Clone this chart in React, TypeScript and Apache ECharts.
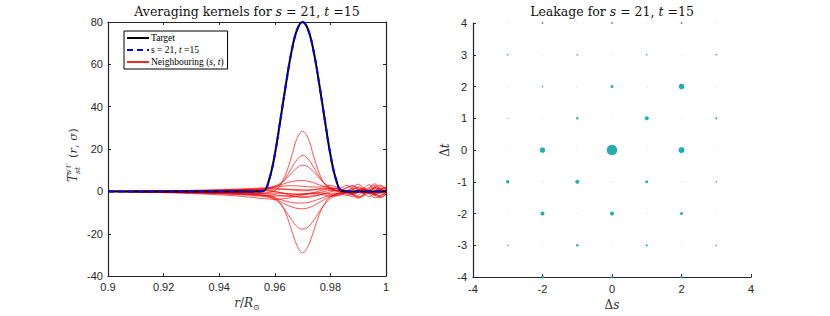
import React, { useEffect, useRef } from "react";
import * as echarts from "echarts";

// radius grid r/R_sun
const R = [0.9, 0.91, 0.92, 0.93, 0.94, 0.945, 0.95, 0.953, 0.956, 0.958, 0.96, 0.962, 0.964, 0.966, 0.968, 0.97, 0.972, 0.974, 0.976, 0.978, 0.98, 0.982, 0.984, 0.986, 0.988, 0.99, 0.992, 0.994, 0.996, 0.998, 1.0];

const TARGET = [0, 0, 0, 0, 0, 0, 0, 0, 0.2, 5.7, 17.4, 33.7, 50.6, 65.9, 76.3, 80, 76.3, 65.9, 50.6, 33.7, 17.4, 5.7, 0.2, 0, 0, 0, 0, 0, 0, 0, 0];
const KERNEL = [0, 0, 0, 0, 0, 0, 0, 0, 0.2, 5.7, 17.4, 33.7, 50.6, 65.9, 76.3, 80, 76.3, 65.9, 50.6, 33.7, 17.4, 5.7, 0.2, 0, 0, 0, 0, 0, 0, 0, 0];

const N01 = [0, -0.1, -0.2, -0.3, -0.5, -0.6, -0.8, -0.9, -0.8, -0.5, 0.4, 3.0, 8.4, 16.4, 25.0, 28.4, 25.0, 16.5, 8.6, 3.4, 1.0, 0.2, -0.3, 0.4, -0.6, 0.8, -1.2, 0.6, 1.5, -0.8, 0.5];
const N02 = [0, 0.1, 0.2, 0.3, 0.5, 0.6, 0.8, 0.9, 1.0, 1.3, 2.0, 3.6, 6.6, 11.0, 15.0, 16.9, 15.3, 11.4, 7.0, 3.6, 1.6, 0.5, 0.0, -0.6, 0.9, 1.8, 0.3, -1.0, 2.1, 0.4, -0.5];
const N03 = [0, 0.1, 0.2, 0.4, 0.6, 0.8, 1.0, 1.2, 1.5, 1.9, 2.6, 3.8, 5.9, 8.6, 11.1, 12.4, 11.6, 9.2, 6.2, 3.7, 2.0, 1.2, 0.9, 1.7, 2.6, 0.8, -0.4, 1.3, 2.8, 1.0, 0.2];
const N04 = [0, 0.0, 0.1, 0.2, 0.3, 0.4, 0.6, 0.8, 1.1, 1.5, 2.2, 3.0, 3.9, 4.6, 5.0, 5.1, 4.8, 4.1, 3.1, 2.2, 1.6, 1.4, 1.8, 2.9, 1.2, -0.6, 1.4, 3.2, 0.5, 2.4, 1.0];
const N05 = [0, 0.1, 0.2, 0.3, 0.5, 0.6, 0.7, 0.9, 1.2, 1.5, 1.9, 2.3, 2.6, 2.7, 2.6, 2.4, 2.2, 2.1, 2.0, 2.3, 2.8, 2.2, 1.0, 0.3, 1.9, 3.4, 1.6, -0.2, 1.8, 3.0, 0.8];
const N06 = [0, 0.0, 0.1, 0.1, 0.2, 0.3, 0.4, 0.5, 0.6, 0.7, 0.8, 0.9, 1.0, 1.0, 0.9, 0.8, 0.7, 0.9, 1.3, 1.6, 1.2, 0.4, -0.5, 0.2, 1.5, 0.7, -0.8, 0.6, 2.0, -0.4, -1.5];
const N07 = [0, -0.1, -0.1, -0.2, -0.4, -0.5, -0.6, -0.7, -0.8, -0.8, -0.8, -0.9, -1.0, -1.1, -1.2, -1.2, -1.1, -0.9, -0.5, 0.0, 0.5, 0.6, 0.1, -0.6, -1.2, 0.3, 1.2, -0.2, -1.6, -0.5, 0.8];
const N08 = [0, -0.1, -0.2, -0.3, -0.5, -0.6, -0.8, -0.9, -1.1, -1.3, -1.6, -1.9, -2.2, -2.4, -2.5, -2.5, -2.3, -2.0, -1.6, -1.2, -0.9, -0.8, -1.2, -2.0, -0.7, 0.6, -1.0, -2.4, -0.4, 1.1, -0.6];
const N09 = [0, -0.1, -0.2, -0.4, -0.7, -0.9, -1.1, -1.4, -1.8, -2.3, -3.0, -3.8, -4.6, -5.2, -5.5, -5.5, -5.2, -4.5, -3.6, -2.6, -1.8, -1.2, -0.9, -1.4, -2.6, -1.8, -0.4, -1.2, -3.0, -1.8, -0.8];
const N10 = [0, -0.1, -0.3, -0.5, -0.8, -1.0, -1.2, -1.5, -1.9, -2.5, -3.5, -4.8, -6.2, -7.3, -8.0, -8.2, -7.8, -6.7, -5.2, -3.7, -2.4, -1.4, -0.8, -0.6, -1.3, -2.5, -1.6, -0.2, -1.0, -2.6, -1.4];
const N11 = [0, -0.2, -0.4, -0.7, -1.1, -1.4, -1.7, -2.0, -2.4, -2.9, -4.0, -6.0, -9.4, -13.3, -16.6, -17.8, -16.8, -13.6, -9.7, -6.0, -3.4, -1.8, -1.0, -0.8, -1.6, -0.6, 0.8, -0.4, -1.8, -0.3, 0.9];
const N12 = [0, -0.1, -0.3, -0.5, -0.8, -1.0, -1.3, -1.5, -1.8, -2.0, -3.0, -5.5, -10.5, -18.2, -25.6, -29.0, -25.8, -18.6, -10.9, -5.6, -2.6, -1.2, -0.5, 0.3, -0.8, 0.6, 1.6, 0.2, -1.0, 0.9, -0.3];
const N13 = [0, 0.1, 0.3, 0.5, 0.8, 1.0, 1.3, 1.5, 1.6, 1.6, 1.5, 1.3, 1.0, 0.7, 0.4, 0.3, 0.4, 0.7, 1.0, 1.2, 0.9, 0.3, 0.6, 1.8, 2.7, 1.4, 0.2, 1.9, 3.6, 1.2, 2.0];
const N14 = [0, -0.2, -0.4, -0.7, -1.1, -1.3, -1.6, -1.8, -2.0, -2.1, -2.2, -2.2, -2.1, -1.9, -1.6, -1.3, -1.0, -0.8, -0.7, -0.9, -1.5, -2.2, -1.6, -0.5, -1.2, -2.8, -1.5, 0.4, -0.9, -2.2, -0.4];
const N15 = [0, -0.3, -0.6, -1.0, -1.6, -2.0, -2.6, -3.0, -3.4, -3.6, -3.7, -3.6, -3.3, -2.8, -2.2, -1.7, -1.3, -1.1, -1.3, -1.8, -2.4, -2.0, -1.1, -0.4, -1.5, -3.2, -2.1, -0.6, -1.9, -3.0, -1.2];
const N16 = [0, 0.0, 0.1, 0.2, 0.3, 0.3, 0.4, 0.4, 0.3, 0.1, -0.2, -0.6, -1.0, -1.3, -1.4, -1.3, -1.0, -0.5, 0.2, 0.9, 1.4, 1.5, 0.9, 0.1, 0.8, 2.2, 1.0, -1.0, 0.2, 1.6, -0.8];
const N17 = [0, 0.1, 0.2, 0.3, 0.4, 0.5, 0.6, 0.6, 0.6, 0.4, 0.0, -0.5, -1.2, -2.0, -2.6, -2.9, -2.8, -2.4, -1.7, -0.9, -0.2, 0.4, 0.5, -0.3, -1.3, -0.4, 1.0, 0.3, -1.4, 0.6, 1.8];
const NEIGHBOURS = [N01, N02, N03, N04, N05, N06, N07, N08, N09, N10, N11, N12, N13, N14, N15, N16, N17];

// leakage (relative) for neighbouring modes
const DS = [-2, 0, 2, -3, -1, 1, 3, -2, 0, 2, -3, -1, 1, 3, -2, 0, 2, -3, -1, 1, 3, -2, 0, 2, -3, -1, 1, 3, -2, 0, 2];
const DT = [4, 4, 4, 3, 3, 3, 3, 2, 2, 2, 1, 1, 1, 1, 0, 0, 0, -1, -1, -1, -1, -2, -2, -2, -3, -3, -3, -3, -4, -4, -4];
const LEAK = [0.03, 0.03, 0.03, 0.02, 0.02, 0.02, 0.02, 0.02, 0.08, 0.28, 0.01, 0.057, 0.145, 0.036, 0.27, 1.0, 0.33, 0.11, 0.145, 0.08, 0.02, 0.145, 0.145, 0.08, 0.02, 0.057, 0.036, 0.02, 0.08, 0.036, 0.036];

const X_TICKS = [-4, -2, 0, 2, 4];
const Y_TICKS = [-4, -3, -2, -1, 0, 1, 2, 3, 4];

const SERIF = "'DejaVu Serif', 'Liberation Serif', serif";
const LSERIF = "'Liberation Serif', 'DejaVu Serif', serif";
const SANS = "'Liberation Sans', Arial, sans-serif";
const AX = "#262626";

export default function App() {
  const ref = useRef<HTMLDivElement>(null);
  useEffect(() => {
    const chart = echarts.init(ref.current!, null, { renderer: "svg" });

    const pairs = (ys: number[]) => R.map((r, i) => [r, ys[i]]);
    const redName = "Neighbouring";

    const series: any[] = NEIGHBOURS.map((c) => ({
      type: "line",
      name: redName,
      xAxisIndex: 0,
      yAxisIndex: 0,
      data: pairs(c),
      symbol: "none",
      smooth: 0.4,
      lineStyle: { color: "#ff0000", width: 0.8, opacity: 0.85 },
      itemStyle: { color: "#ff0000" },
      silent: true,
    }));
    series.push({
      type: "line",
      name: "Target",
      xAxisIndex: 0,
      yAxisIndex: 0,
      data: pairs(TARGET),
      symbol: "none",
      smooth: 0.4,
      lineStyle: { color: "#000000", width: 2 },
      itemStyle: { color: "#000000" },
    });
    series.push({
      type: "line",
      name: "Kernel",
      xAxisIndex: 0,
      yAxisIndex: 0,
      data: pairs(KERNEL),
      symbol: "none",
      smooth: 0.4,
      lineStyle: { color: "#0000ff", width: 2, type: [6, 4] },
      itemStyle: { color: "#0000ff" },
    });

    // faint markers at all other grid positions
    const faint: number[][] = [];
    for (const t of Y_TICKS) {
      for (const s of [-3, -2, -1, 0, 1, 2, 3]) {
        if (Math.abs(s + t) % 2 === 1) faint.push([s, t]);
      }
    }
    series.push({
      type: "scatter",
      xAxisIndex: 2,
      yAxisIndex: 2,
      data: faint,
      symbolSize: 1.5,
      itemStyle: { color: "#18abab", opacity: 0.15 },
      silent: true,
    });
    series.push({
      type: "scatter",
      xAxisIndex: 2,
      yAxisIndex: 2,
      data: DS.map((s, i) => [s, DT[i], LEAK[i]]),
      symbolSize: (v: number[]) => 10.5 * Math.sqrt(v[2]),
      itemStyle: { color: "#17abab", opacity: 0.95 },
      silent: true,
    });

    const axisCommon = {
      axisLine: { show: true, onZero: false, lineStyle: { color: AX, width: 1.2 } },
      axisTick: { show: true, inside: true, length: 3, lineStyle: { color: AX, width: 1 } },
      splitLine: { show: false },
      axisLabel: { color: AX, fontFamily: SANS, fontSize: 11, margin: 5 },
    };

    const option: any = {
      animation: false,
      backgroundColor: "#ffffff",
      grid: [
        { left: 108, top: 22, width: 278, height: 258 },
        { left: 473, top: 23, width: 278, height: 258 },
      ],
      legend: {
        data: ["Target", "Kernel", redName],
        left: 124,
        top: 31,
        orient: "vertical",
        backgroundColor: "#ffffff",
        borderColor: "#000000",
        borderWidth: 1,
        padding: [2, 4, 2, 2],
        itemGap: 2,
        itemWidth: 22,
        itemHeight: 8,
        selectedMode: false,
        itemStyle: { opacity: 0, borderWidth: 0 },
        textStyle: {
          fontFamily: LSERIF,
          fontSize: 9.5,
          color: "#000",
          padding: [0, 0, 0, -3],
          rich: {
            n: { fontFamily: LSERIF, fontSize: 9.5, color: "#000" },
            i: { fontFamily: LSERIF, fontSize: 9.5, fontStyle: "italic", color: "#000" },
          },
        },
        formatter: (name: string) => {
          if (name === "Target") return "{n|Target}";
          if (name === "Kernel") return "{n|s = 21, }{i|t}{n| =15}";
          return "{n|Neighbouring (}{i|s}{n|, }{i|t}{n|)}";
        },
      },
      xAxis: [
        {
          ...axisCommon,
          gridIndex: 0,
          type: "value",
          min: 0.9,
          max: 1,
          interval: 0.02,
          axisLabel: { ...axisCommon.axisLabel, formatter: (v: number) => String(+v.toFixed(2)) },
          name: "{i|r}{n|/}{i|R}{s|⊙}",
          nameLocation: "middle",
          nameGap: 18,
          nameTextStyle: {
            rich: {
              i: { fontFamily: SERIF, fontSize: 12, fontStyle: "italic", color: "#333" },
              n: { fontFamily: SERIF, fontSize: 12, color: "#333" },
              s: { fontFamily: SERIF, fontSize: 8, color: "#333", padding: [8, 0, 0, 0] },
            },
          },
        },
        {
          ...axisCommon,
          gridIndex: 0,
          type: "value",
          position: "top",
          min: 0.9,
          max: 1,
          interval: 0.02,
          axisLabel: { show: false },
        },
        {
          ...axisCommon,
          gridIndex: 1,
          type: "value",
          min: X_TICKS[0],
          max: X_TICKS[X_TICKS.length - 1],
          interval: 2,
          axisLabel: { ...axisCommon.axisLabel, margin: 6 },
          name: "{n|Δ}{i|s}",
          nameLocation: "middle",
          nameGap: 20,
          nameTextStyle: {
            rich: {
              i: { fontFamily: SERIF, fontSize: 12, fontStyle: "italic", color: "#333" },
              n: { fontFamily: SERIF, fontSize: 12, color: "#333" },
            },
          },
        },
      ],
      yAxis: [
        {
          ...axisCommon,
          gridIndex: 0,
          type: "value",
          min: -40,
          max: 80,
          interval: 20,
          axisLabel: { ...axisCommon.axisLabel, margin: 5 },
        },
        {
          ...axisCommon,
          gridIndex: 0,
          type: "value",
          position: "right",
          min: -40,
          max: 80,
          interval: 20,
          axisLabel: { show: false },
        },
        {
          ...axisCommon,
          gridIndex: 1,
          type: "value",
          min: Y_TICKS[0],
          max: Y_TICKS[Y_TICKS.length - 1],
          interval: 1,
          axisLabel: { ...axisCommon.axisLabel, margin: 6 },
          name: "{n|Δ}{i|t}",
          nameLocation: "middle",
          nameGap: 22,
          nameTextStyle: {
            rich: {
              i: { fontFamily: SERIF, fontSize: 12, fontStyle: "italic", color: "#333" },
              n: { fontFamily: SERIF, fontSize: 12, color: "#333" },
            },
          },
        },
      ],
      graphic: [
        {
          type: "text",
          x: 247,
          y: 11,
          style: {
            text: "{n|Averaging kernels for }{i|s}{n| = 21, }{i|t}{n| =15}",
            align: "center",
            verticalAlign: "middle",
            rich: {
              n: { fontFamily: SERIF, fontSize: 12.5, fill: "#111" },
              i: { fontFamily: SERIF, fontSize: 12.5, fontStyle: "italic", fill: "#111" },
            },
          },
        },
        {
          type: "text",
          x: 612,
          y: 11,
          style: {
            text: "{n|Leakage for }{i|s}{n| = 21, }{i|t}{n| =15}",
            align: "center",
            verticalAlign: "middle",
            rich: {
              n: { fontFamily: SERIF, fontSize: 12.5, fill: "#111" },
              i: { fontFamily: SERIF, fontSize: 12.5, fontStyle: "italic", fill: "#111" },
            },
          },
        },
        {
          type: "group",
          x: 73,
          y: 153,
          rotation: Math.PI / 2,
          children: [
            {
              type: "text",
              x: -29,
              y: 0,
              style: { text: "T", font: `italic 12px ${SERIF}`, fill: "#333", verticalAlign: "middle", align: "left" },
            },
            {
              type: "text",
              x: -21,
              y: -5,
              style: { text: "s′t′", font: `italic 8px ${SERIF}`, fill: "#333", verticalAlign: "middle", align: "left" },
            },
            {
              type: "text",
              x: -21,
              y: 4,
              style: { text: "st", font: `italic 8px ${SERIF}`, fill: "#333", verticalAlign: "middle", align: "left" },
            },
            {
              type: "text",
              x: -5,
              y: 0,
              style: {
                text: "{n|(}{i|r}{n|, }{i|σ}{n|)}",
                verticalAlign: "middle",
                align: "left",
                rich: {
                  n: { fontFamily: SERIF, fontSize: 11.5, fill: "#333" },
                  i: { fontFamily: SERIF, fontSize: 11.5, fontStyle: "italic", fill: "#333" },
                },
              },
            },
          ],
        },
      ],
      series,
    };
    chart.setOption(option);
    return () => chart.dispose();
  }, []);
  return <div ref={ref} style={{ position: "fixed", left: 0, top: 0, width: 830, height: 316 }} />;
}
